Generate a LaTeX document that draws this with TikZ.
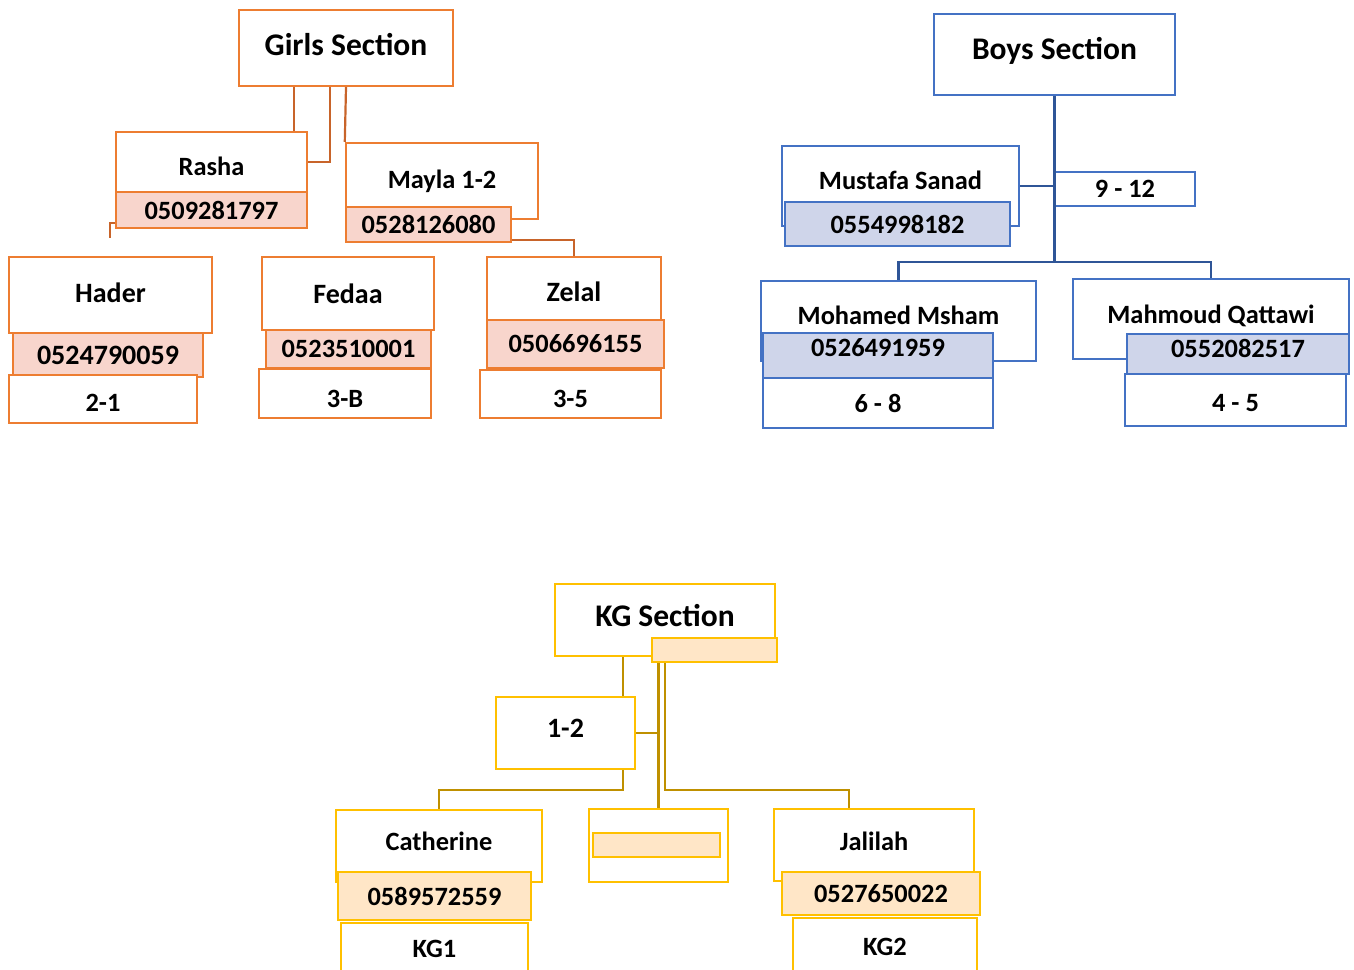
\documentclass[tikz,border=0pt]{standalone}
\usepackage{fontspec}
\setmainfont{Carlito}
\usetikzlibrary{calc}
\definecolor{gborder}{HTML}{ED7D31}
\definecolor{gfill}{HTML}{F8D5CC}
\definecolor{glinec}{HTML}{C8642A}
\definecolor{bborder}{HTML}{4472C4}
\definecolor{bfill}{HTML}{CFD5EA}
\definecolor{blinec}{HTML}{2F5597}
\definecolor{kborder}{HTML}{FFC000}
\definecolor{kfill}{HTML}{FFE6C7}
\definecolor{klinec}{HTML}{BF9000}

\begin{document}
\begin{tikzpicture}[x=1pt, y=-1pt,
    box/.style={rectangle, draw, line width=2.4pt, fill=white, inner sep=0pt, font=\bfseries\fontsize{26.4}{30}\selectfont},
    dims/.style 2 args={minimum width=#1pt, minimum height=#2pt},
    lift/.style={text depth=#1pt},
    drop/.style={text height=#1pt},
    title/.style={font=\bfseries\fontsize{31.5}{36}\selectfont},
    big/.style={font=\bfseries\fontsize{28}{32}\selectfont},
    girl/.style={box, draw=gborder},
    girlph/.style={box, draw=gborder, fill=gfill},
    boy/.style={box, draw=bborder},
    boyph/.style={box, draw=bborder, fill=bfill},
    kid/.style={box, draw=kborder},
    kidph/.style={box, draw=kborder, fill=kfill},
    gline/.style={line width=2.2pt, draw=glinec},
    bline/.style={line width=2.2pt, draw=blinec},
    kline/.style={line width=2.2pt, draw=klinec}
]
    \useasboundingbox (0,0) rectangle (1354,969);
    \clip (0,0) rectangle (1354,969);

    % Girls Section
    \node[girl, title, dims={214}{76}, lift=8] (girls) at (346,48) {Girls Section};
    \node[girl, dims={191}{60}, drop=27] (rasha) at (211.5,162) {Rasha};
    \node[girlph, dims={191}{36}] (rashaph) at (211.5,210) {0509281797};
    \node[girl, dims={192}{76}] (mayla) at (442,181) {Mayla 1-2};
    \node[girlph, dims={165}{35}] (maylaph) at (428.5,224.5) {0528126080};
    \node[girl, big, dims={203}{76}, lift=4] (hader) at (110.5,295) {Hader};
    \node[girlph, big, dims={190}{44}] (haderph) at (108,355) {0524790059};
    \node[girl, dims={188}{48}, drop=25] (hadergr) at (103,399) {2-1};
    \node[girl, big, dims={172}{73}] (fedaa) at (348,293.5) {Fedaa};
    \node[girlph, dims={165}{38}] (fedaaph) at (348.5,349) {0523510001};
    \node[girl, dims={172}{49}, drop=28] (fedaagr) at (345,393.5) {3-B};
    \node[girl, big, dims={174}{63}, drop=26] (zelal) at (574,288.5) {Zelal};
    \node[girlph, dims={177}{48}] (zelalph) at (575.5,344) {0506696155};
    \node[girl, dims={181}{48}, drop=28] (zelalgr) at (570.5,394) {3-5};

    \coordinate (gl) at ([xshift=-52pt]girls.south);
    \coordinate (gm) at ([xshift=-16pt]girls.south);
    \coordinate (haderlink) at (110,238);
    \draw[gline] (gl) -- (gl |- rasha.north);
    \draw[gline] (gm) |- (rasha.east);
    \draw[gline] (girls.south) -- (mayla.north west);
    \draw[gline] ([yshift=6pt]rashaph.south west) -| (haderlink);
    \draw[gline] ([yshift=3pt]maylaph.south east) -| (zelal.north);

    % Boys Section
    \node[boy, title, dims={241}{81}, lift=13] (boys) at (1054.5,54.5) {Boys Section};
    \node[boy, dims={237}{80}, lift=12] (mustafa) at (900.5,186) {Mustafa Sanad};
    \node[boyph, dims={225}{44}] (mustafaph) at (897.5,224) {0554998182};
    \node[boy, dims={140}{34}] (upper) at (1125,189) {9 - 12};
    \node[boy, dims={275}{80}, lift=12] (mohamed) at (898.5,321) {Mohamed Msham};
    \node[boyph, dims={230}{45}, lift=17] (mohamedph) at (878,355.5) {0526491959};
    \node[boy, dims={230}{50}] (mohamedgr) at (878,403) {6 - 8};
    \node[boy, dims={276}{80}, lift=10] (mahmoud) at (1211,319) {Mahmoud Qattawi};
    \node[boyph, dims={222}{40}, lift=12] (mahmoudph) at (1238,354) {0552082517};
    \node[boy, dims={221}{52}, drop=23] (mahmoudgr) at (1235.5,400) {4 - 5};

    \coordinate (bbus) at (1054.5,262);
    \draw[bline] (boys.south) -- (bbus);
    \draw[bline] (mustafa.east) -- (mustafa.east -| boys.south);
    \draw[bline] (mohamed.north) |- (bbus) -| (mahmoud.north);

    % KG Section
    \node[kid, title, dims={220}{72}, lift=10] (kg) at (665,620) {KG Section};
    \node[kidph, dims={125}{24}] (kgblank) at (714.5,650) {};
    \node[kid, big, dims={139}{72}, lift=10] (one) at (565.5,733) {1-2};
    \node[kid, dims={206}{72}, lift=10] (catherine) at (439,846) {Catherine};
    \node[kidph, dims={193}{48}] (catherineph) at (434.5,896) {0589572559};
    \node[kid, dims={187}{52}] (catherinegr) at (434.5,949) {KG1};
    \node[kid, dims={139}{73}] (middle) at (658.5,845.5) {};
    \node[kidph, dims={127}{24}] (middleph) at (656.5,845) {};
    \node[kid, dims={200}{72}, lift=8] (jalilah) at (874,845) {Jalilah};
    \node[kidph, dims={198}{43}] (jalilahph) at (881,893.5) {0527650022};
    \node[kid, dims={184}{57}] (jalilahgr) at (885,946.5) {KG2};

    \coordinate (kl) at ([xshift=-42pt]kg.south);
    \coordinate (kr) at ([xshift=-25pt,yshift=18pt]jalilah.north);
    \coordinate (kc) at ([yshift=19pt]catherine.north);
    \draw[kline] (kl) -- (kl |- one.north);
    \draw[kline] (middle.north |- kgblank.south) -- (middle.north);
    \draw[kline] (one.east) -- (one.east -| middle.north);
    \draw[kline] (kg.south |- kgblank.south) |- (kr) -- (kr |- jalilah.north);
    \draw[kline] ([xshift=57.5pt]one.south) |- (kc) -- (catherine.north);
\end{tikzpicture}
\end{document}
